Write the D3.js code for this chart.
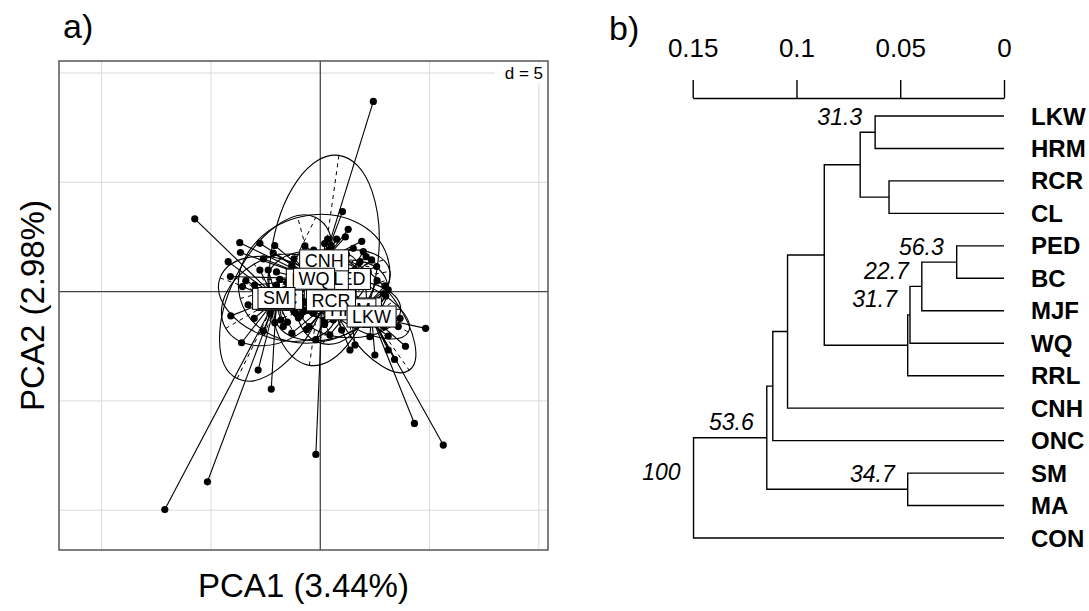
<!DOCTYPE html>
<html>
<head>
<meta charset="utf-8">
<script src="https://cdn.jsdelivr.net/npm/d3@7"></script>
<style>
  body { margin: 0; background: #fff; }
  text { font-family: "Liberation Sans", Arial, Helvetica, sans-serif; }
</style>
</head>
<body>
<div id="chart"></div>
<script>
let w = 1089,
    h = 611;

// ---- panel a) : PCA s.class ----
// label drawing order (later ones sit on top)
const popNames = ["MA", "CON", "ONC", "MJF", "RRL", "BC", "HRM", "PED", "CL", "CNH", "WQ", "SM", "RCR", "LKW"];
const popCentroids = [[-2.07, -0.38], [0.5, -0.42], [-1.95, -0.33], [0.3, 0.15], [-0.5, 0.55], [2.0, -0.77], [1.38, -0.81],
                      [1.22, 0.58], [0.53, 0.58], [0.18, 1.43], [-0.28, 0.59], [-2.0, -0.29], [0.49, -0.40], [2.35, -1.14]];
// semi axis a, semi axis b, angle (deg)
const popEllipses = [[2.6, 1.9, 30], [2.0, 1.6, 80], [2.8, 1.8, -20], [1.8, 1.1, 15], [1.9, 1.3, 0], [2.3, 1.0, -28], [2.3, 1.3, 0],
                     [2.0, 1.3, 10], [1.4, 1.0, 40], [4.85, 2.45, 82], [3.5, 2.9, 15], [4.1, 2.1, 64], [2.7, 1.7, 20], [3.0, 1.3, -55]];
const popPoints = [
  [[-2.0, 0.3], [-1.1, -1.0], [-2.6, -0.6], [-0.6, 0.5], [-1.8, -1.3], [-0.9, 0.8], [-3.56, 0.23], [-2.76, 0.99], [-1.6, 0.1], [-2.3, -1.0]],
  [[-0.5, -1.6], [0.6, -1.3], [-0.9, 0.1], [0.4, 0.0], [-0.2, -2.2], [-1.3, -1.9], [-0.32, -0.99], [-1.5, 0.4], [-0.6, -0.3], [-1.0, -1.2], [0.1, -0.8],
   [-0.8, -0.5], [-0.7, -0.85]],
  [[-1.69, -1.60], [-2.08, -1.42], [-0.78, -0.84], [-0.93, -0.23], [0.2, -1.3], [-1.4, -0.1], [0.3, 0.0], [-3.02, -1.22], [-0.5, -0.6], [-1.2, -0.9],
   [-0.9, -0.6]],
  [[2.1, 1.6], [0.8, 1.5], [1.9, 0.3], [-0.4, 0.4], [-0.6, -0.5], [0.9, -0.6], [0.2, 1.0]],
  [[-2.0, 0.9], [-1.6, -0.4], [0.1, 0.8], [-0.2, -0.6], [-1.3, 1.2], [-0.5, 0.3], [-1.39, 0.84], [-0.9, 0.5], [-1.1, -0.2]],
  [[2.6, 0.5], [1.4, 0.1], [2.2, -1.1], [2.9, -0.1], [1.6, -0.9], [2.96, 0.26], [3.11, 0.08], [3.3, -0.9]],
  [[1.59, -2.44], [3.11, -2.03], [0.2, -1.5], [0.9, -0.3], [2.0, -1.5], [0.5, -0.7], [0.44, -1.98], [1.4, -1.4], [1.2, -0.9], [2.5, -0.6]],
  [[1.97, 1.83], [2.35, 1.45], [1.82, 1.37], [2.58, 1.15], [0.3, 1.2], [0.6, -0.2], [1.5, 0.2], [2.2, 0.9], [1.0, 1.0], [1.6, 0.9]],
  [[1.2, 1.7], [-0.2, 1.5], [0.1, 0.2], [1.3, 0.3], [0.4, 1.9], [0.9, 1.1], [-0.7, 0.9]],
  [[2.43, 8.70], [-0.20, -7.45], [1.02, 3.66], [1.28, 2.85], [0.34, 2.40], [0.75, 2.40], [-0.70, 2.09], [1.51, 1.98], [-0.6, 0.9], [0.9, 0.3],
   [0.2, 2.2], [0.5, 2.1], [-0.3, 1.9], [1.9, 2.3], [1.15, 2.5]],
  [[-3.68, 2.24], [-3.65, 1.79], [-2.76, 2.21], [-2.08, 2.11], [-2.15, 1.76], [-1.85, 0.56], [-4.11, 0.69], [0.6, 1.6], [1.2, -0.3], [-0.6, -0.2],
   [-2.6, 1.5], [-3.0, 0.3], [-1.2, 1.5]],
  [[-5.74, 3.33], [-7.11, -9.97], [-5.16, -8.70], [-2.24, -4.46], [-2.84, -3.59], [-3.60, -2.34], [-4.09, -1.11], [-4.21, 1.37], [-2.38, 0.99], [-1.2, -0.9], [-1.5, -1.4],
   [-3.3, -0.6], [-2.6, -1.8], [-3.4, 0.5]],
  [[0.98, -1.76], [1.36, -2.67], [-0.63, -1.73], [1.5, 0.6], [-0.4, 0.3], [0.3, -0.9], [1.8, -1.1], [-0.9, -1.1], [0.0, -0.6], [1.0, -0.5]],
  [[4.31, -6.03], [5.63, -7.02], [4.82, -1.68], [3.65, -1.22], [3.57, -1.60], [3.11, -2.67], [2.50, -2.90], [2.27, -2.06], [3.0, -0.2], [1.7, -0.8], [3.9, -2.5],
   [2.9, -1.6], [3.4, -3.1], [2.2, -1.5]]
];
const gridTicks = [-10, -5, 0, 5, 10];

// ---- panel b) : dendrogram ----
const leafNames = ["LKW", "HRM", "RCR", "CL", "PED", "BC", "MJF", "WQ", "RRL", "CNH", "ONC", "SM", "MA", "CON"];
// [left, right, height, support]
const merges = [
  ["LKW", "HRM", 0.0621, 31.3],
  ["RCR", "CL", 0.0554, null],
  ["m1", "m2", 0.0693, null],
  ["PED", "BC", 0.0228, 56.3],
  ["m4", "MJF", 0.0396, 22.7],
  ["m5", "WQ", 0.0453, 31.7],
  ["m6", "RRL", 0.0464, null],
  ["m3", "m7", 0.0866, null],
  ["m8", "CNH", 0.1043, null],
  ["m9", "ONC", 0.1114, null],
  ["SM", "MA", 0.0464, 34.7],
  ["m10", "m11", 0.1143, 53.6],
  ["m12", "CON", 0.1496, 100]
];
const heightTicks = [0.15, 0.1, 0.05, 0];

let svg = d3.select("#chart")
            .append("svg")
            .attr("width", w)
            .attr("height", h);

// ================= a) =================
let xS = d3.scaleLinear().domain([-11.95, 10.42]).range([59, 548]);
let yS = d3.scaleLinear().domain([-11.82, 10.55]).range([550, 61]);
let k = xS(1) - xS(0);

let pa = svg.append("g");

pa.selectAll(".gx")
  .data(gridTicks.filter(d => d != 0))
  .enter()
  .append("line")
  .attr("x1", d => xS(d)).attr("x2", d => xS(d))
  .attr("y1", yS.range()[0]).attr("y2", yS.range()[1])
  .style("stroke", "#dadada").style("stroke-width", 1);

pa.selectAll(".gy")
  .data(gridTicks.filter(d => d != 0))
  .enter()
  .append("line")
  .attr("y1", d => yS(d)).attr("y2", d => yS(d))
  .attr("x1", xS.range()[0]).attr("x2", xS.range()[1])
  .style("stroke", "#dadada").style("stroke-width", 1);

// d = 5 label
pa.append("rect")
  .attr("x", 495).attr("y", 63).attr("width", 52).attr("height", 20)
  .style("fill", "white");
pa.append("text")
  .attr("x", 543).attr("y", 79)
  .attr("text-anchor", "end")
  .style("font-size", "17px")
  .text("d = 5");

// axes through origin
pa.append("line")
  .attr("x1", xS.range()[0]).attr("x2", xS.range()[1])
  .attr("y1", yS(0)).attr("y2", yS(0))
  .style("stroke", "#444").style("stroke-width", 1.3);
pa.append("line")
  .attr("x1", xS(0)).attr("x2", xS(0))
  .attr("y1", yS.range()[0]).attr("y2", yS.range()[1])
  .style("stroke", "#111").style("stroke-width", 1);

// ellipses with dashed axes
popEllipses.forEach((e, i) => {
  let c = popCentroids[i];
  let a = e[0], b = e[1], t = e[2] * Math.PI / 180;
  let g = pa.append("g");
  g.append("ellipse")
   .attr("cx", xS(c[0])).attr("cy", yS(c[1]))
   .attr("rx", a * k).attr("ry", b * k)
   .attr("transform", "rotate(" + (-e[2]) + "," + xS(c[0]) + "," + yS(c[1]) + ")")
   .style("fill", "none").style("stroke", "black").style("stroke-width", 1.1);
  [[a * Math.cos(t), a * Math.sin(t)], [-b * Math.sin(t), b * Math.cos(t)]].forEach(v => {
    g.append("line")
     .attr("x1", xS(c[0] - v[0])).attr("y1", yS(c[1] - v[1]))
     .attr("x2", xS(c[0] + v[0])).attr("y2", yS(c[1] + v[1]))
     .style("stroke", "black").style("stroke-width", 1)
     .style("stroke-dasharray", "4,4");
  });
});

// stars
popPoints.forEach((pts, i) => {
  let c = popCentroids[i];
  pa.selectAll(".star" + i)
    .data(pts)
    .enter()
    .append("line")
    .attr("x1", d => xS(d[0])).attr("y1", d => yS(d[1]))
    .attr("x2", xS(c[0])).attr("y2", yS(c[1]))
    .style("stroke", "black").style("stroke-width", 1.1);
});

popPoints.forEach((pts, i) => {
  pa.selectAll(".pt" + i)
    .data(pts)
    .enter()
    .append("circle")
    .attr("cx", d => xS(d[0])).attr("cy", d => yS(d[1]))
    .attr("r", 3.6)
    .style("fill", "black");
});

// labels in boxes
popNames.forEach((name, i) => {
  let c = popCentroids[i];
  let g = pa.append("g").attr("transform", "translate(" + xS(c[0]) + "," + yS(c[1]) + ")");
  let r = g.append("rect");
  let t = g.append("text")
           .attr("text-anchor", "middle")
           .attr("y", 6.5)
           .style("font-size", "18px")
           .text(name);
  let tw = t.node().getComputedTextLength();
  r.attr("x", -tw / 2 - 5).attr("y", -10.5).attr("width", tw + 10).attr("height", 21)
   .style("fill", "white").style("stroke", "black").style("stroke-width", 1);
});

// frame
pa.append("rect")
  .attr("x", 59).attr("y", 61).attr("width", 489).attr("height", 489)
  .style("fill", "none").style("stroke", "#555").style("stroke-width", 1.5);

svg.append("text")
   .attr("x", (xS.range()[0] + xS.range()[1]) / 2).attr("y", 597)
   .attr("text-anchor", "middle")
   .style("font-size", "33px")
   .text("PCA1 (3.44%)");

svg.append("text")
   .attr("transform", "translate(44," + (yS.range()[0] + yS.range()[1]) / 2 + ") rotate(-90)")
   .attr("text-anchor", "middle")
   .style("font-size", "33px")
   .text("PCA2 (2.98%)");

svg.append("text").attr("x", 63).attr("y", 38).style("font-size", "34px").text("a)");
svg.append("text").attr("x", 609).attr("y", 40).style("font-size", "34px").text("b)");

// ================= b) =================
let hS = d3.scaleLinear().domain([0.15, 0]).range([692.7, 1004]);
let leafY = d3.scalePoint().domain(leafNames).range([116, 538]);

let nodes = {};
leafNames.forEach(n => { nodes[n] = { x: hS(0), y: leafY(n) }; });
merges.forEach((m, i) => {
  let l = nodes[m[0]], r = nodes[m[1]];
  nodes["m" + (i + 1)] = { x: hS(m[2]), y: (l.y + r.y) / 2, l: l, r: r, support: m[3] };
});

let pb = svg.append("g");

merges.forEach((m, i) => {
  let n = nodes["m" + (i + 1)];
  pb.append("path")
    .attr("d", "M" + n.l.x + "," + n.l.y + "H" + n.x + "V" + n.r.y + "H" + n.r.x)
    .style("fill", "none").style("stroke", "black").style("stroke-width", 1.4);
  if (n.support != null) {
    pb.append("text")
      .attr("x", n.x - 13).attr("y", n.y - 7.5)
      .attr("text-anchor", "end")
      .style("font-size", "23px").style("font-style", "italic")
      .text(n.support);
  }
});

pb.selectAll(".leaf")
  .data(leafNames)
  .enter()
  .append("text")
  .attr("x", 1031).attr("y", d => leafY(d) + 8.5)
  .style("font-size", "24px").style("font-weight", "bold")
  .text(d => d);

let axis = d3.axisTop(hS)
             .tickValues(heightTicks)
             .tickFormat(d => String(d))
             .tickSize(18)
             .tickSizeOuter(0)
             .tickPadding(23);

let ag = pb.append("g")
           .attr("transform", "translate(0,98)")
           .call(axis);
ag.selectAll("path, line").style("stroke", "black").style("stroke-width", 1.4);
ag.selectAll("text").style("font-size", "26px").style("font-family", "'Liberation Sans', Arial, sans-serif").attr("fill", "black");
</script>
</body>
</html>
